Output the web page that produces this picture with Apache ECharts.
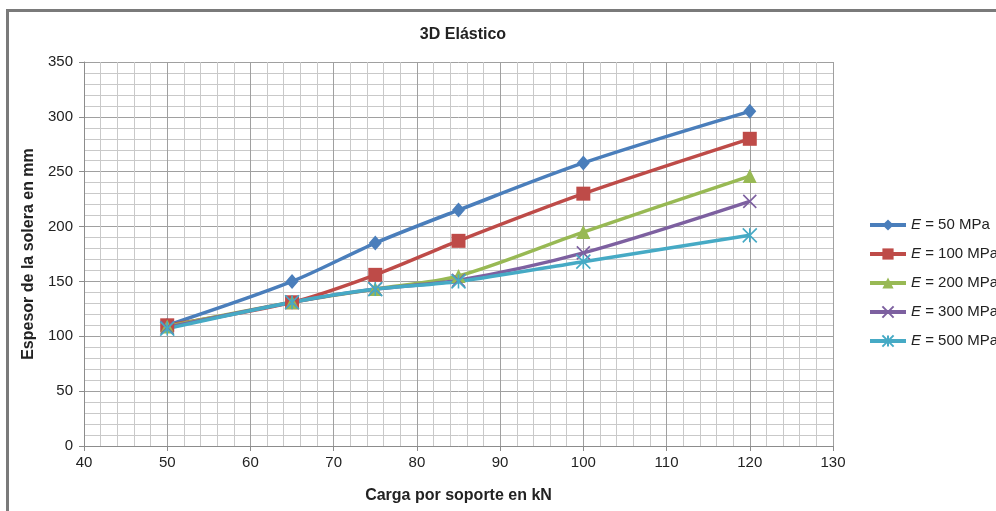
<!DOCTYPE html>
<html>
<head>
<meta charset="utf-8">
<script src="https://cdn.jsdelivr.net/npm/echarts@6/dist/echarts.min.js"></script>
<style>html,body{margin:0;padding:0;background:#fff;}#c{width:996px;height:511px;}</style>
</head>
<body>
<div id="c"></div>
<script>
const xValues = [50, 65, 75, 85, 100, 120];
const seriesNames = ['E = 50 MPa', 'E = 100 MPa', 'E = 200 MPa', 'E = 300 MPa', 'E = 500 MPa'];
const e50  = [110, 150, 185, 215, 258, 305];
const e100 = [110, 131, 156, 187, 230, 280];
const e200 = [109, 131, 143, 155, 195, 246];
const e300 = [108, 131, 143, 151, 176, 223];
const e500 = [107, 131, 143, 150, 168, 192];
const xTicks = [40, 50, 60, 70, 80, 90, 100, 110, 120, 130];
const yTicks = [0, 50, 100, 150, 200, 250, 300, 350];

const colors = ['#4A7EBB', '#BE4B48', '#98B954', '#7D60A0', '#46AAC5'];
const symbols = [
  'diamond',
  'rect',
  'triangle',
  'path://M0,0L10,10M10,0L0,10',
  'path://M5,0L5,10M0,0L10,10M10,0L0,10'
];
const symbolSizes = [[13, 15], 14, 14, 13, 14];
const allData = [e50, e100, e200, e300, e500];

const chart = echarts.init(document.getElementById('c'), null, {renderer: 'canvas'});
const font = '"Liberation Sans", Arial, sans-serif';

const series = allData.map((vals, i) => ({
  name: seriesNames[i],
  type: 'line',
  smooth: 0.3,
  data: xValues.map((x, j) => [x, vals[j]]),
  symbol: symbols[i],
  symbolSize: symbolSizes[i],
  showAllSymbol: true,
  lineStyle: {color: colors[i], width: 3.5},
  itemStyle: {color: colors[i], borderColor: colors[i], borderWidth: i >= 3 ? 1.6 : 0},
  emphasis: {disabled: true},
  animation: false
}));

chart.setOption({
  animation: false,
  color: colors,
  textStyle: {fontFamily: font},
  title: {
    text: '3D Elástico',
    left: 458, top: 22, textAlign: 'center',
    textStyle: {fontFamily: font, fontSize: 16, fontWeight: 'bold', color: '#222'}
  },
  graphic: [{
    type: 'rect', z: -10, silent: true,
    shape: {x: 7.5, y: 10.5, width: 1200, height: 1200},
    style: {fill: 'none', stroke: '#7a7a7a', lineWidth: 3}
  }],
  legend: {
    orient: 'vertical',
    left: 868, top: 217, padding: 0,
    itemWidth: 36, itemHeight: 14, itemGap: 13,
    data: seriesNames,
    lineStyle: {width: 4},
    textStyle: {
      fontFamily: font, fontSize: 15, color: '#222', lineHeight: 16,
      rich: {i: {fontStyle: 'italic', fontFamily: font, fontSize: 15, color: '#222'}}
    },
    formatter: n => n.replace(/^E/, '{i|E}')
  },
  grid: {left: 84, right: 163, top: 62, bottom: 65, containLabel: false},
  xAxis: {
    type: 'value', min: xTicks[0], max: xTicks[xTicks.length - 1], interval: 10,
    name: 'Carga por soporte en kN', nameLocation: 'middle', nameGap: 42,
    nameTextStyle: {fontFamily: font, fontSize: 16, fontWeight: 'bold', color: '#222'},
    axisLine: {show: true, lineStyle: {color: '#8c8c8c', width: 1}},
    axisTick: {show: true, inside: false, length: 5, lineStyle: {color: '#8c8c8c'}},
    minorTick: {show: false, splitNumber: 5},
    axisLabel: {fontFamily: font, fontSize: 15, color: '#222', margin: 9},
    splitLine: {show: true, lineStyle: {color: '#a0a0a0', width: 1}},
    minorSplitLine: {show: true, lineStyle: {color: '#c9c9c9', width: 1}}
  },
  yAxis: {
    type: 'value', min: yTicks[0], max: yTicks[yTicks.length - 1], interval: 50,
    name: 'Espesor de la solera en mm', nameLocation: 'middle', nameGap: 46,
    nameTextStyle: {fontFamily: font, fontSize: 16, fontWeight: 'bold', color: '#222'},
    axisLine: {show: true, lineStyle: {color: '#8c8c8c', width: 1}},
    axisTick: {show: true, inside: false, length: 5, lineStyle: {color: '#8c8c8c'}},
    minorTick: {show: false, splitNumber: 5},
    axisLabel: {fontFamily: font, fontSize: 15, color: '#222', margin: 11},
    splitLine: {show: true, lineStyle: {color: '#a0a0a0', width: 1}},
    minorSplitLine: {show: true, lineStyle: {color: '#c9c9c9', width: 1}}
  },
  series: series
});
</script>
</body>
</html>
